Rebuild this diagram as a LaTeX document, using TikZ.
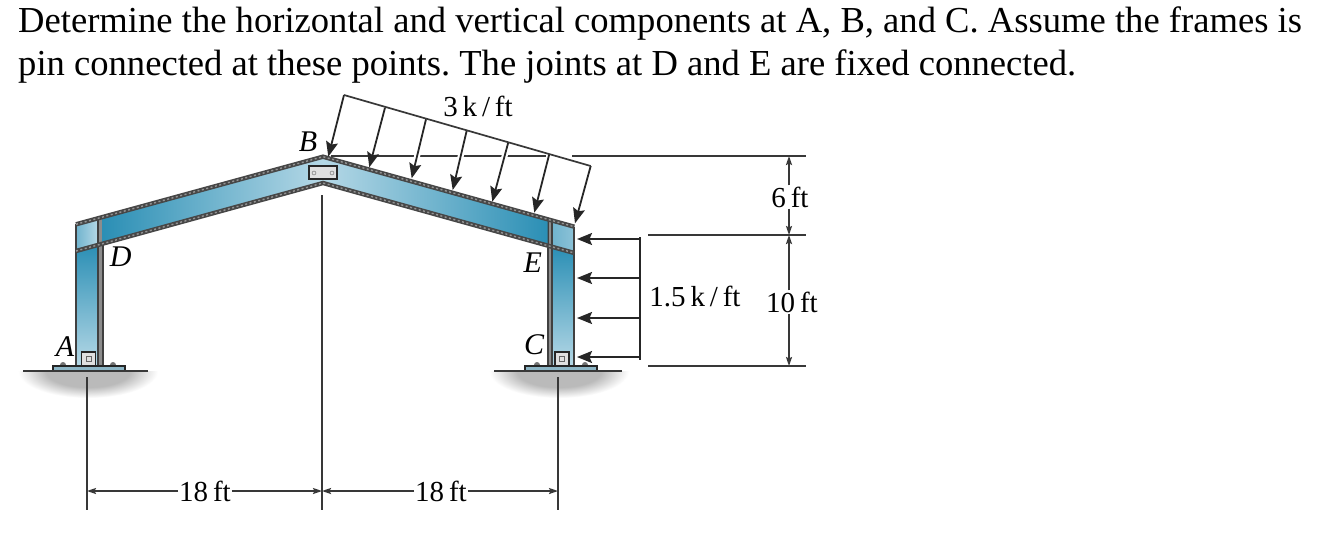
\documentclass[tikz,border=0pt]{standalone}
\usepackage{fontspec}
\setmainfont{Liberation Serif}
\frenchspacing
\usetikzlibrary{arrows.meta}
\definecolor{steeldark}{HTML}{2B8FB5}
\definecolor{steellight}{HTML}{B5D8E6}
\definecolor{platecol}{HTML}{8DB6C6}
\pgfdeclareradialshading{groundshade}{\pgfpoint{0bp}{0bp}}{color(0bp)=(black!27); color(15bp)=(black!27); color(25bp)=(white); color(50bp)=(white)}
\begin{document}
\begin{tikzpicture}[
      x=1pt,y=-1pt,
      header/.style={anchor=base west,inner sep=0pt,font=\fontsize{36.6}{42}\selectfont},
      size/.style={inner sep=1pt,font=\fontsize{29}{30}\selectfont},
      letter/.style={inner sep=0pt,font=\fontsize{30}{30}\selectfont\itshape},
      thin line/.style={draw=black!78,line width=1.7pt},
      dim/.style={thin line,-{Stealth[length=9pt,width=6pt,inset=1.5pt]}},
      load/.style={draw=black!85,line width=1.8pt,-{Stealth[length=15pt,width=12pt,inset=2.5pt]}},
      halo/.style={draw=white,line width=6pt},
      flange/.style={draw=black!72,line width=4.4pt,
        postaction={draw=black!42,line width=1.4pt,dash pattern=on 2pt off 2.5pt}},
      edge/.style={draw=black!75,line width=2pt},
      stiff/.style={fill=black!45,draw=black!75,line width=1.6pt},
      pinbox/.style={fill=black!12,draw=black!85,line width=1.8pt},
      bolt/.style={circle,fill=black!55,inner sep=0pt,minimum size=6pt}
    ]
      \useasboundingbox (0,0) rectangle (1330,550);
      \fill[white] (0,0) rectangle (1330,550);

      \node (line1) at (18,32) [header]{Determine the horizontal and vertical components at A, B, and C. Assume the frames is};
      \node (line2) at (18,75) [header]{pin connected at these points. The joints at D and E are fixed connected.};

      % ground shadows
      \begin{scope}
        \clip (0,371) rectangle (1330,410);
        \shade[shading=groundshade] (88,371) ellipse [x radius=70,y radius=27];
        \shade[shading=groundshade] (559,371) ellipse [x radius=70,y radius=27];
      \end{scope}

      % slanted load, ends
      \coordinate (t1) at (344,95);
      \coordinate (t2) at (385,107.7);
      \coordinate (t3) at (426,119.3);
      \coordinate (t4) at (466.7,130.7);
      \coordinate (t5) at (508.3,142.3);
      \coordinate (t6) at (549.3,154);
      \coordinate (t7) at (590.7,166);
      \coordinate (p1) at (328.3,156.7);
      \coordinate (p2) at (369.3,167.3);
      \coordinate (p3) at (411.7,178.3);
      \coordinate (p4) at (452.7,190);
      \coordinate (p5) at (492.3,201.7);
      \coordinate (p6) at (534.3,212.7);
      \coordinate (p7) at (575,223.3);

      % top level line runs behind the load
      \coordinate (h1) at (331,156);
      \coordinate (h2) at (546,156);
      \coordinate (h3) at (572,156);
      \coordinate (h4) at (806,156);
      \draw[thin line] (h1) -- (h2);
      \draw[thin line] (h3) -- (h4);
      \draw[halo] (t2) -- (p2);
      \draw[halo] (t3) -- (p3);
      \draw[halo] (t4) -- (p4);
      \draw[halo] (t5) -- (p5);

      % bolts on the plates
      \node (ba1) at (63,365) [bolt]{};
      \node (ba2) at (88,365) [bolt]{};
      \node (ba3) at (113,365) [bolt]{};
      \node (bc1) at (537,365) [bolt]{};
      \node (bc2) at (562,365) [bolt]{};
      \node (bc3) at (585,365) [bolt]{};

      % left column
      \shade[top color=steeldark,bottom color=steellight] (76,251) -- (98,245) -- (98,366) -- (76,366) -- cycle;
      \shade[left color=steeldark!50!steellight,right color=steellight] (76,224) -- (98,218) -- (98,245) -- (76,251) -- cycle;
      \draw[stiff] (98,218) rectangle (103,366);
      \draw[edge] (76,224) -- (76,366);

      % right column
      \shade[top color=steeldark,bottom color=steellight] (552,247) -- (574,253) -- (574,366) -- (552,366) -- cycle;
      \shade[left color=steeldark!50!steellight,right color=steellight!70!steeldark] (552,220.5) -- (574,226.7) -- (574,253) -- (552,247) -- cycle;
      \draw[stiff] (548,219.5) rectangle (552,366);
      \draw[edge] (574,226.7) -- (574,366);

      % rafters
      \shade[left color=steeldark,right color=steellight] (102.7,217) -- (323,156.7) -- (323,183) -- (102.7,244) -- cycle;
      \shade[left color=steellight,right color=steeldark] (323,156.7) -- (547.7,219.5) -- (547.7,245.7) -- (323,183) -- cycle;
      \draw[flange] (76,224.3) -- (323,156.7) -- (574.3,226.7);
      \draw[flange] (76,251) -- (323,183) -- (574.3,253);

      % gusset at the crown
      \node (gusset) at (323,172.5) [pinbox,draw,minimum width=28pt,minimum height=13pt,inner sep=0pt]{};
      \node (g1) at (314,173) [circle,draw=black!60,inner sep=0pt,minimum size=4pt]{};
      \node (g2) at (332,173) [circle,draw=black!60,inner sep=0pt,minimum size=4pt]{};

      % plates, ground, pins
      \draw[fill=platecol,draw=black!85,line width=1.2pt] (53,366) rectangle (125,371);
      \draw[fill=platecol,draw=black!85,line width=1.2pt] (525,366) rectangle (597,371);
      \coordinate (ga1) at (23,371);
      \coordinate (ga2) at (148,371);
      \coordinate (gc1) at (494,371);
      \coordinate (gc2) at (622,371);
      \draw[thin line] (ga1) -- (ga2);
      \draw[thin line] (gc1) -- (gc2);
      \node (pina) at (88.5,359) [pinbox,draw,minimum size=14pt,inner sep=0pt]{};
      \node (pinc) at (562,359) [pinbox,draw,minimum size=14pt,inner sep=0pt]{};
      \node (pa) at (88.5,359) [draw=black!60,inner sep=0pt,minimum size=5pt]{};
      \node (pc) at (562,359) [draw=black!60,inner sep=0pt,minimum size=5pt]{};

      % slanted load
      \draw[load] (t1) -- (p1);
      \draw[load] (t2) -- (p2);
      \draw[load] (t3) -- (p3);
      \draw[load] (t4) -- (p4);
      \draw[load] (t5) -- (p5);
      \draw[load] (t6) -- (p6);
      \draw[load] (t7) -- (p7);
      \draw[thin line] (t1) -- (t7);

      % side load
      \coordinate (s1) at (640,239);
      \coordinate (s2) at (640,278);
      \coordinate (s3) at (640,318);
      \coordinate (s4) at (640,357);
      \coordinate (q1) at (577,239);
      \coordinate (q2) at (577,278);
      \coordinate (q3) at (577,318);
      \coordinate (q4) at (577,357);
      \coordinate (s0) at (640,237);
      \coordinate (s5) at (640,360);
      \draw[load] (s1) -- (q1);
      \draw[load] (s2) -- (q2);
      \draw[load] (s3) -- (q3);
      \draw[load] (s4) -- (q4);
      \draw[draw=black!85,line width=1.8pt] (s0) -- (s5);

      % right dimensions
      \coordinate (m1) at (648,235);
      \coordinate (m2) at (806,235);
      \coordinate (n1) at (648,366);
      \coordinate (n2) at (806,366);
      \draw[thin line] (m1) -- (m2);
      \draw[thin line] (n1) -- (n2);
      \node (six) at (790,197) [size]{6\,ft};
      \node (ten) at (792,302) [size]{10\,ft};
      \coordinate (d1) at (789,156);
      \coordinate (d2) at (789,235);
      \coordinate (d3) at (789,235);
      \coordinate (d4) at (789,366);
      \draw[dim] (six.north -| d1) -- (d1);
      \draw[dim] (six.south -| d2) -- (d2);
      \draw[dim] (ten.north -| d3) -- (d3);
      \draw[dim] (ten.south -| d4) -- (d4);

      % bottom dimensions
      \coordinate (ea1) at (87,377);
      \coordinate (ea2) at (87,510);
      \coordinate (eb1) at (322,195);
      \coordinate (eb2) at (322,510);
      \coordinate (ec1) at (558,377);
      \coordinate (ec2) at (558,510);
      \draw[thin line] (ea1) -- (ea2);
      \draw[thin line] (eb1) -- (eb2);
      \draw[thin line] (ec1) -- (ec2);
      \coordinate (fa) at (87,491);
      \coordinate (fb) at (322,491);
      \coordinate (fc) at (558,491);
      \node (len1) at (205,491) [size]{18\,ft};
      \node (len2) at (441,491) [size]{18\,ft};
      \draw[dim] (len1) -- (fa);
      \draw[dim] (len1) -- (fb);
      \draw[dim] (len2) -- (fb);
      \draw[dim] (len2) -- (fc);

      % load values and letters
      \node (w1) at (478,106.7) [size]{3\,k\,/\,ft};
      \node (w2) at (695,296) [size]{1.5\,k\,/\,ft};
      \node (la) at (65,347) [letter]{A};
      \node (lb) at (308,142) [letter]{B};
      \node (lc) at (534,345) [letter]{C};
      \node (ld) at (120.7,257) [letter]{D};
      \node (le) at (532.7,262.3) [letter]{E};
    \end{tikzpicture}
\end{document}
